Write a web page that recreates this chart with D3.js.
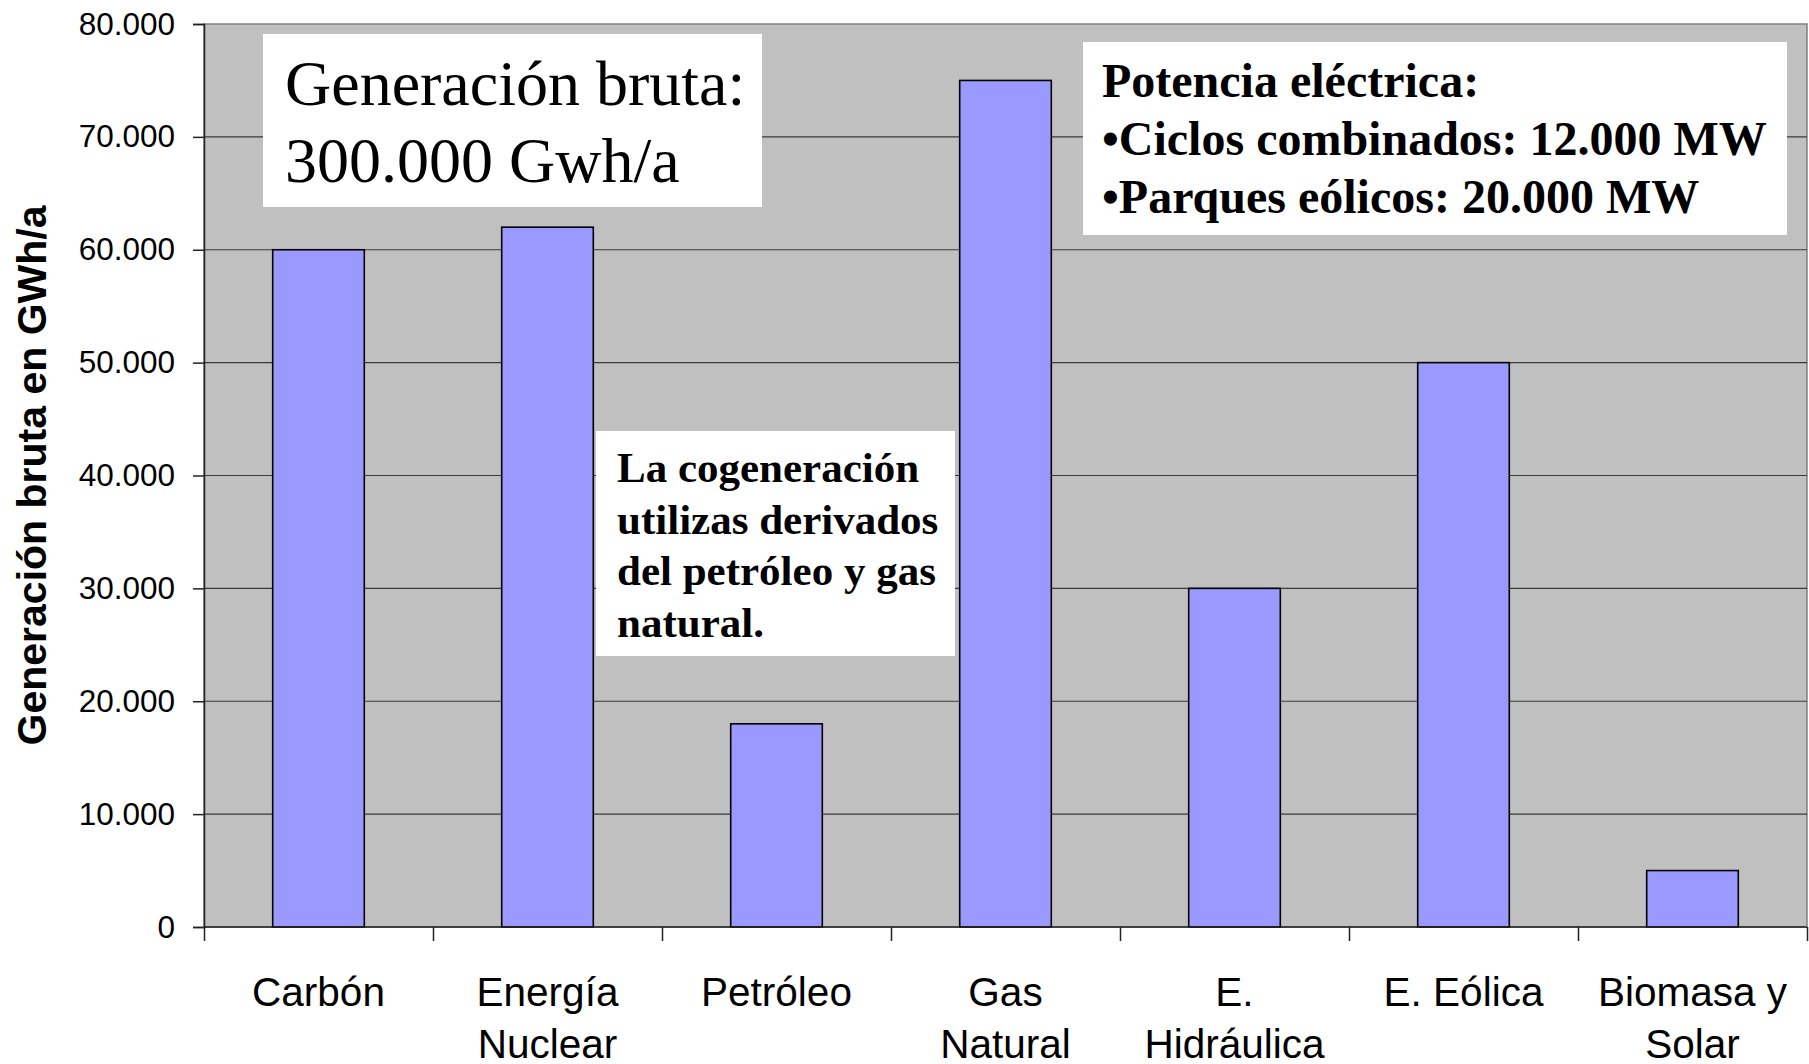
<!DOCTYPE html>
<html>
<head>
<meta charset="utf-8">
<script src="https://cdn.jsdelivr.net/npm/d3@7"></script>
<style>
  body { margin: 0; background: #fff; }
  svg { display: block; }
</style>
</head>
<body>
<script>
// data
const categories = ["Carbón", "Energía Nuclear", "Petróleo", "Gas Natural", "E. Hidráulica", "E. Eólica", "Biomasa y Solar"];
const labelLines = [["Carbón"], ["Energía", "Nuclear"], ["Petróleo"], ["Gas", "Natural"], ["E.", "Hidráulica"], ["E. Eólica"], ["Biomasa y", "Solar"]];
const values = [60000, 62000, 18000, 75000, 30000, 50000, 5000];
const yTicks = [0, 10000, 20000, 30000, 40000, 50000, 60000, 70000, 80000];
const yTitle = "Generación bruta en GWh/a";
const note1 = ["Generación bruta:", "300.000 Gwh/a"];
const note2 = ["Potencia eléctrica:", "•Ciclos combinados: 12.000 MW", "•Parques eólicos: 20.000 MW"];
const note3 = ["La cogeneración", "utilizas derivados", "del petróleo y gas", "natural."];

const W = 1809, H = 1064;
const m = {top: 24, right: 2, bottom: 137, left: 204};

const svg = d3.select("body").append("svg").attr("width", W).attr("height", H);

const x = d3.scaleBand().domain(categories)
  .range([m.left, W - m.right]).paddingInner(0.6).paddingOuter(0.3);
// boundaries between categories, for the tick marks
const xEdge = d3.scaleLinear().domain([0, categories.length]).range([m.left, W - m.right]);
const y = d3.scaleLinear().domain([0, 80000]).range([H - m.bottom, m.top]);

// plot area
svg.append("rect")
  .attr("x", m.left).attr("y", m.top)
  .attr("width", W - m.right - m.left).attr("height", y(0) - m.top)
  .attr("fill", "#c0c0c0").attr("stroke", "#808080").attr("stroke-width", 1.5);

// gridlines
svg.append("g").selectAll("line").data(yTicks.filter(d => d > 0 && d < 80000)).enter()
  .append("line")
  .attr("x1", m.left).attr("x2", W - m.right)
  .attr("y1", d => y(d)).attr("y2", d => y(d))
  .attr("stroke", "#3a3a3a").attr("stroke-width", 1.2);

// bars
svg.append("g").selectAll("rect").data(values).enter()
  .append("rect")
  .attr("x", (d, i) => x(categories[i]))
  .attr("y", d => y(d))
  .attr("width", x.bandwidth())
  .attr("height", d => y(0) - y(d))
  .attr("fill", "#9999ff").attr("stroke", "#000").attr("stroke-width", 1.6);

// y axis
const fmt = d => d3.format(",")(d).replace(/,/g, ".");
const yAxis = svg.append("g").attr("transform", `translate(${m.left},0)`)
  .call(d3.axisLeft(y).tickValues(yTicks).tickSize(11).tickPadding(18).tickFormat(fmt));
yAxis.selectAll("text").attr("font-family", "Arial, 'Liberation Sans', sans-serif")
  .attr("font-size", 31.5).attr("fill", "#000");
yAxis.selectAll("line, path").attr("stroke", "#222").attr("stroke-width", 1.5);

// x axis ticks at category boundaries
const xAxis = svg.append("g").attr("transform", `translate(0,${y(0)})`)
  .call(d3.axisBottom(xEdge).tickValues(d3.range(categories.length + 1)).tickSize(14).tickFormat(""));
xAxis.selectAll("line, path").attr("stroke", "#222").attr("stroke-width", 1.5);
xAxis.select("path").attr("d", `M${m.left},0H${W - m.right}`);

// x labels
const xl = svg.append("g").selectAll("text").data(labelLines).enter()
  .append("text")
  .attr("x", (d, i) => x(categories[i]) + x.bandwidth() / 2)
  .attr("y", 1006)
  .attr("text-anchor", "middle")
  .attr("font-family", "Arial, 'Liberation Sans', sans-serif")
  .attr("font-size", 40.5);
xl.selectAll("tspan").data(d => d).enter().append("tspan")
  .attr("x", function() { return this.parentNode.getAttribute("x"); })
  .attr("dy", (d, i) => i === 0 ? 0 : 52)
  .text(d => d);

// y title
svg.append("text")
  .attr("transform", `translate(46,${(m.top + y(0)) / 2}) rotate(-90)`)
  .attr("text-anchor", "middle")
  .attr("font-family", "Arial, 'Liberation Sans', sans-serif")
  .attr("font-weight", "bold").attr("font-size", 41)
  .text(yTitle);

// text boxes
function note(lines, box, tx, ty, lh, size, weight) {
  const g = svg.append("g");
  g.append("rect").attr("x", box[0]).attr("y", box[1])
    .attr("width", box[2] - box[0]).attr("height", box[3] - box[1]).attr("fill", "#fff");
  g.selectAll("text").data(lines).enter().append("text")
    .attr("x", tx).attr("y", (d, i) => ty + i * lh)
    .attr("font-family", "'Times New Roman', 'Liberation Serif', serif")
    .attr("font-size", size).attr("font-weight", weight)
    .text(d => d);
}
note(note1, [263, 34, 762, 207], 285, 105, 77, 64, "normal");
note(note2, [1083, 42, 1787, 235], 1102, 97, 58, 48, "bold");
note(note3, [596, 431, 955, 656], 617, 482, 51.7, 43, "bold");
</script>
</body>
</html>
